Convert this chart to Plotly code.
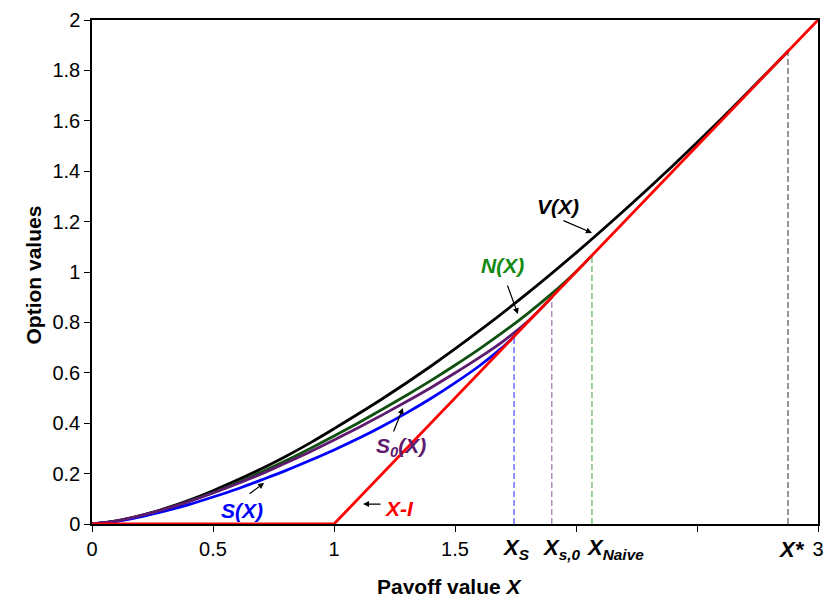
import plotly.graph_objects as go

# ---- data ----
v_x = [0, 0.1, 0.2, 0.3, 0.4, 0.5, 0.6, 0.7, 0.8, 0.9, 1.0, 1.2, 1.4, 1.6, 1.8, 2.0, 2.2, 2.4, 2.6, 2.8, 2.876]
v_vals = [0, 0.012, 0.033, 0.061, 0.094, 0.132, 0.174, 0.219, 0.268, 0.321, 0.378, 0.497, 0.626, 0.766, 0.916, 1.076, 1.245, 1.422, 1.607, 1.801, 1.876]

n_x = [0, 0.1, 0.2, 0.3, 0.4, 0.5, 0.6, 0.7, 0.8, 0.9, 1.0, 1.1, 1.2, 1.3, 1.4, 1.5, 1.6, 1.7, 1.8, 1.9, 2.0, 2.066]
n_vals = [0, 0.0115, 0.032, 0.059, 0.090, 0.125, 0.164, 0.206, 0.251, 0.299, 0.349, 0.401, 0.455, 0.511, 0.569, 0.630, 0.694, 0.762, 0.835, 0.914, 1.001, 1.066]

s0_x = [0, 0.1, 0.2, 0.3, 0.4, 0.5, 0.6, 0.7, 0.8, 0.9, 1.0, 1.1, 1.2, 1.3, 1.4, 1.5, 1.6, 1.7, 1.8, 1.9]
s0_vals = [0, 0.012, 0.033, 0.059, 0.089, 0.123, 0.160, 0.199, 0.242, 0.286, 0.333, 0.382, 0.433, 0.486, 0.541, 0.599, 0.660, 0.726, 0.803, 0.900]

s_x = [0, 0.1, 0.2, 0.3, 0.4, 0.5, 0.6, 0.7, 0.8, 0.9, 1.0, 1.1, 1.2, 1.3, 1.4, 1.5, 1.6, 1.7, 1.744]
s_vals = [0, 0.010, 0.028, 0.051, 0.077, 0.107, 0.139, 0.175, 0.212, 0.252, 0.294, 0.339, 0.388, 0.441, 0.498, 0.560, 0.627, 0.704, 0.744]

payoff_x = [0, 1, 3]
payoff_vals = [0, 0, 2]

thresholds = [1.744, 1.9, 2.066, 2.876]
threshold_heights = [0.744, 0.9, 1.066, 1.876]
threshold_colors = ["#4b4bff", "#a070b0", "#55b055", "#555555"]
threshold_labels = ["X<sub>S</sub>", "X<sub>s,0</sub>", "X<sub>Naive</sub>", "X*"]
threshold_label_x = [1.752, 1.938, 2.161, 2.891]

x_tickvals = [0, 0.5, 1, 1.5, 2, 2.5, 3]
x_ticktext = ["0", "0.5", "1", "1.5", "", "", "3"]
y_tickvals = [0, 0.2, 0.4, 0.6, 0.8, 1, 1.2, 1.4, 1.6, 1.8, 2]
y_ticktext = ["0", "0.2", "0.4", "0.6", "0.8", "1", "1.2", "1.4", "1.6", "1.8", "2"]

FONT = "Liberation Sans, Arial, sans-serif"

fig = go.Figure()

# dashed threshold lines
for tx, th, tc in zip(thresholds, threshold_heights, threshold_colors):
    fig.add_trace(go.Scatter(x=[tx, tx], y=[0, th], mode="lines",
                             line=dict(color=tc, width=1.2, dash="6px,3px"),
                             showlegend=False, hoverinfo="skip"))

LW = 2.8
fig.add_trace(go.Scatter(x=v_x, y=v_vals, mode="lines", line=dict(color="black", width=LW, shape="spline"), showlegend=False))
fig.add_trace(go.Scatter(x=n_x, y=n_vals, mode="lines", line=dict(color="#0f4f0f", width=LW, shape="spline"), showlegend=False))
fig.add_trace(go.Scatter(x=s_x, y=s_vals, mode="lines", line=dict(color="#0000ff", width=LW, shape="spline"), showlegend=False))
fig.add_trace(go.Scatter(x=s0_x, y=s0_vals, mode="lines", line=dict(color="#5e1a6e", width=LW, shape="spline"), showlegend=False))
fig.add_trace(go.Scatter(x=payoff_x, y=payoff_vals, mode="lines", line=dict(color="#ff0000", width=LW), showlegend=False))

ann = []
# curve labels
labels = [
    ("<b><i>V(X)</i></b>", 1.926, 1.258, "black"),
    ("<b><i>N(X)</i></b>", 1.698, 1.024, "#138a13"),
    ("<b><i>S<sub>0</sub>(X)</i></b>", 1.277, 0.306, "#5e1a6e"),
    ("<b><i>S(X)</i></b>", 0.62, 0.052, "#0000ff"),
    ("<b><i>X-I</i></b>", 1.269, 0.06, "#ff0000"),
]
for t, x, y, c in labels:
    ann.append(dict(text=t, x=x, y=y, xref="x", yref="y", showarrow=False,
                    font=dict(family=FONT, size=21, color=c)))
# arrows (head in data coords, tail offset in px)
arrows = [(2.066, 1.155, -30, -13), (1.760, 0.833, -11, -30), (1.285, 0.460, -10, 25),
          (0.711, 0.163, -16, 12), (1.12, 0.079, 19, 0)]
for x, y, ax, ay in arrows:
    ann.append(dict(text="", x=x, y=y, xref="x", yref="y", ax=ax, ay=ay, showarrow=True,
                    arrowhead=2, arrowsize=1, arrowwidth=1.2, arrowcolor="black"))
# threshold labels under the axis
for t, x in zip(threshold_labels, threshold_label_x):
    ann.append(dict(text="<b><i>" + t + "</i></b>", x=x, y=0, xref="x", yref="paper",
                    yshift=-25, yanchor="middle", showarrow=False,
                    font=dict(family=FONT, size=22, color="black")))
# axis titles
ann.append(dict(text="<b>Option values</b>", x=0, y=0.494, xref="paper", yref="paper",
                xshift=-72, textangle=-90, showarrow=False,
                font=dict(family=FONT, size=21, color="black")))
ann.append(dict(text="<b>Payoff value <i>X</i></b>", x=0.493, y=0, xref="paper", yref="paper",
                yshift=-62, yanchor="middle", showarrow=False,
                font=dict(family=FONT, size=21, color="black")))

fig.update_layout(
    width=827, height=594,
    margin=dict(l=92, r=9, t=20, b=70, autoexpand=False),
    plot_bgcolor="white", paper_bgcolor="white",
    annotations=ann,
    font=dict(family=FONT, size=20, color="black"),
)
fig.update_xaxes(range=[0, 3], tickvals=x_tickvals, ticktext=x_ticktext, automargin=False,
                 showgrid=False, zeroline=False, showline=True, linecolor="black", linewidth=1.5,
                 mirror=True, ticks="outside", ticklen=6, tickcolor="black",
                 tickfont=dict(family=FONT, size=20))
fig.update_yaxes(range=[0, 2], tickvals=y_tickvals, ticktext=y_ticktext, automargin=False,
                 showgrid=False, zeroline=False, showline=True, linecolor="black", linewidth=1.5,
                 mirror=True, ticks="outside", ticklen=6, tickcolor="black",
                 tickfont=dict(family=FONT, size=20))

# remove the page's default body margin so the figure fills the 827x594 window exactly
fig.write_html("out.html", config={"displayModeBar": False},
               post_script="document.body.style.margin='0';document.body.style.overflow='hidden';")
